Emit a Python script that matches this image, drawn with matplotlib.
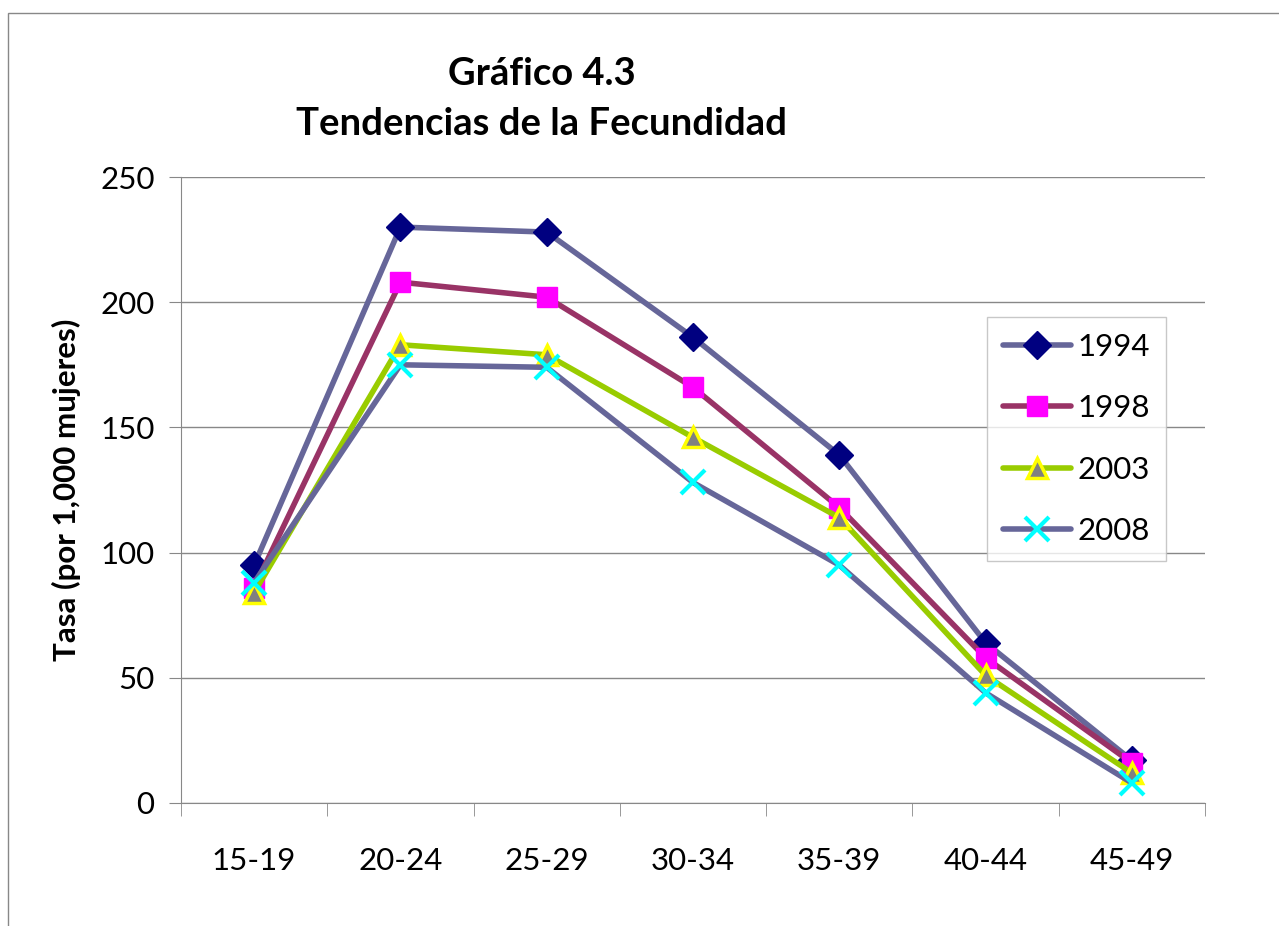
#!/usr/bin/env python3

import numpy as np
import matplotlib.pyplot as plt
from matplotlib.patches import Rectangle

grupos = ["15-19", "20-24", "25-29", "30-34", "35-39", "40-44", "45-49"]
anios = ["1994", "1998", "2003", "2008"]
tasa_1994 = [95, 230, 228, 186, 139, 64, 17]
tasa_1998 = [86, 208, 202, 166, 118, 58, 16]
tasa_2003 = [84, 183, 179, 146, 114, 51, 12]
tasa_2008 = [88, 175, 174, 128, 95, 44, 8]

plt.rcParams['font.family'] = ['Lato', 'DejaVu Sans']

fig = plt.figure(figsize=(12.79, 9.26), dpi=100)
ax = fig.add_axes([181/1279, 1 - 803/926, (1205-181)/1279, (803-177)/926])

# chart border (cut at right/bottom like the original)
fig.patches.append(Rectangle((8/1279, -0.01), 1.02, 1 - 13/926 + 0.01,
                             transform=fig.transFigure, fill=False,
                             edgecolor='#888888', linewidth=1))

x = np.arange(len(grupos))
estilos = [
    (tasa_1994, '#666699', 'D', '#000080', '#000080', 14, 1),
    (tasa_1998, '#993366', 's', '#FF00FF', '#FF00FF', 14, 1),
    (tasa_2003, '#99CC00', '^', '#808080', '#FFFF00', 15, 2.5),
    (tasa_2008, '#666699', 'x', '#00FFFF', '#00FFFF', 17, 3),
]
for (vals, col, mk, mfc, mec, ms, mew), lab in zip(estilos, anios):
    ax.plot(x, vals, color=col, linewidth=4, marker=mk, markersize=ms,
            markerfacecolor=mfc, markeredgecolor=mec, markeredgewidth=mew,
            label=lab, solid_capstyle='round', clip_on=False, zorder=3)

ax.set_xlim(-0.5, len(grupos) - 0.5)
ax.set_ylim(0, 250)
ax.set_yticks(range(0, 251, 50))
ax.yaxis.grid(True, color='#888888', linewidth=1)
ax.set_axisbelow(True)

ax.set_xticks(x)
ax.set_xticklabels(grupos)
ax.set_xticks(np.arange(-0.5, len(grupos)), minor=True)
ax.tick_params(axis='x', which='major', length=0, pad=32, labelsize=22.5)
ax.tick_params(axis='x', which='minor', length=9, color='#888888', direction='out')
ax.tick_params(axis='y', length=9, color='#888888', labelsize=22.5, pad=10)

for s in ['top', 'right']:
    ax.spines[s].set_visible(False)
ax.spines['left'].set_color('#888888')
ax.spines['bottom'].set_color('#888888')

ax.set_ylabel('Tasa (por 1,000 mujeres)', fontsize=22.5, fontweight='bold', labelpad=14)

fig.text(542/1279, 1 - 99/926, 'Gráfico 4.3\nTendencias de la Fecundidad',
         ha='center', va='center', fontsize=27.5, fontweight='bold', linespacing=1.6)

leg = ax.legend(loc='upper left', bbox_to_anchor=((987-181)/1024, (803-317)/626),
                fontsize=22.5, frameon=True, fancybox=False, edgecolor='#BBBBBB',
                handlelength=2.2, labelspacing=1.07, borderpad=0.5, handletextpad=0.2,
                borderaxespad=0)
leg.get_frame().set_linewidth(1)

plt.savefig('out.png', dpi=100)
